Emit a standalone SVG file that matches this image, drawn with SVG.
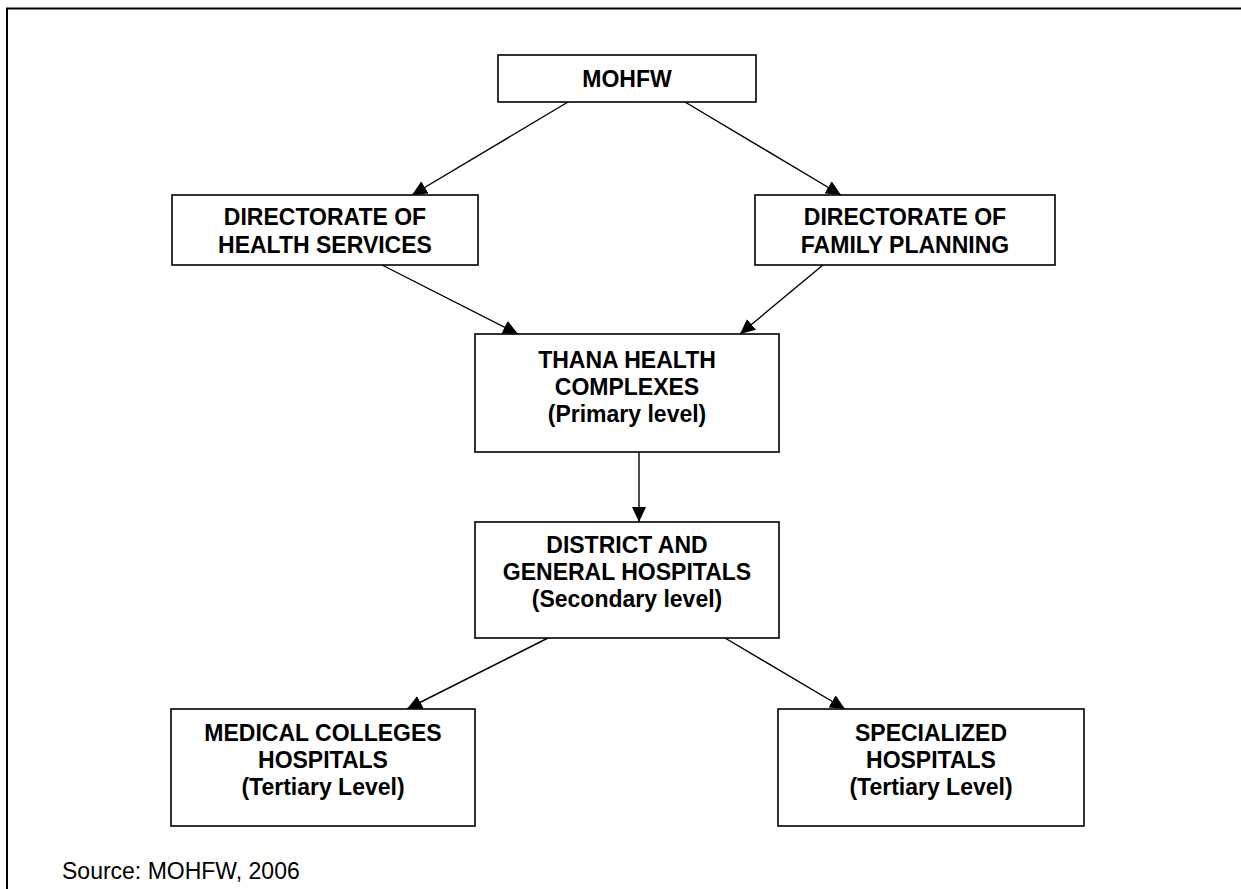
<svg xmlns="http://www.w3.org/2000/svg" width="1241" height="889" viewBox="0 0 1241 889">
<defs>
<style>
.box{fill:#fff;stroke:#000;stroke-width:1.6}
.t{font-family:"Liberation Sans",Arial,sans-serif;font-size:23px;font-weight:bold;text-anchor:middle;fill:#000}
.src{font-family:"Liberation Sans",Arial,sans-serif;font-size:23px;fill:#000}
.c{stroke:#000;stroke-width:1.4;fill:none;marker-end:url(#ah)}
</style>
<marker id="ah" viewBox="0 0 15 14" refX="15" refY="7" markerWidth="15" markerHeight="14" markerUnits="userSpaceOnUse" orient="auto">
<path d="M0,0 L15,7 L0,14 Z" fill="#000"/>
</marker>
</defs>
<rect width="1241" height="889" fill="#fff"/>
<g id="frame">
<path d="M7,889 L7,8.5 L1241,8.5" fill="none" stroke="#000" stroke-width="2"/>
</g>
<g id="connectors">
<line class="c" x1="568" y1="102" x2="412" y2="195"/>
<line class="c" x1="685" y1="102" x2="841" y2="195"/>
<line class="c" x1="382" y1="265" x2="518" y2="334"/>
<line class="c" x1="823" y1="265" x2="740" y2="334"/>
<line class="c" x1="639" y1="452" x2="639" y2="522"/>
<line class="c" x1="548" y1="638" x2="407" y2="709"/>
<line class="c" x1="725" y1="638" x2="845" y2="709"/>
</g>
<g id="mohfw">
<rect class="box" x="498" y="55" width="258" height="47"/>
<text class="t" x="627" y="87">MOHFW</text>
</g>
<g id="dhs">
<rect class="box" x="172" y="195" width="306" height="70"/>
<text class="t" x="325" y="225">DIRECTORATE OF</text>
<text class="t" x="325" y="253">HEALTH SERVICES</text>
</g>
<g id="dfp">
<rect class="box" x="755" y="195" width="300" height="70"/>
<text class="t" x="905" y="225">DIRECTORATE OF</text>
<text class="t" x="905" y="253">FAMILY PLANNING</text>
</g>
<g id="thana">
<rect class="box" x="475" y="334" width="304" height="118"/>
<text class="t" x="627" y="368">THANA HEALTH</text>
<text class="t" x="627" y="395">COMPLEXES</text>
<text class="t" x="627" y="422">(Primary level)</text>
</g>
<g id="district">
<rect class="box" x="475" y="522" width="304" height="116"/>
<text class="t" x="627" y="553">DISTRICT AND</text>
<text class="t" x="627" y="580">GENERAL HOSPITALS</text>
<text class="t" x="627" y="607">(Secondary level)</text>
</g>
<g id="medical">
<rect class="box" x="171" y="709" width="304" height="117"/>
<text class="t" x="323" y="741">MEDICAL COLLEGES</text>
<text class="t" x="323" y="768">HOSPITALS</text>
<text class="t" x="323" y="795">(Tertiary Level)</text>
</g>
<g id="specialized">
<rect class="box" x="778" y="709" width="306" height="117"/>
<text class="t" x="931" y="741">SPECIALIZED</text>
<text class="t" x="931" y="768">HOSPITALS</text>
<text class="t" x="931" y="795">(Tertiary Level)</text>
</g>
<g id="source">
<text class="src" x="62" y="879">Source: MOHFW, 2006</text>
</g>
</svg>
